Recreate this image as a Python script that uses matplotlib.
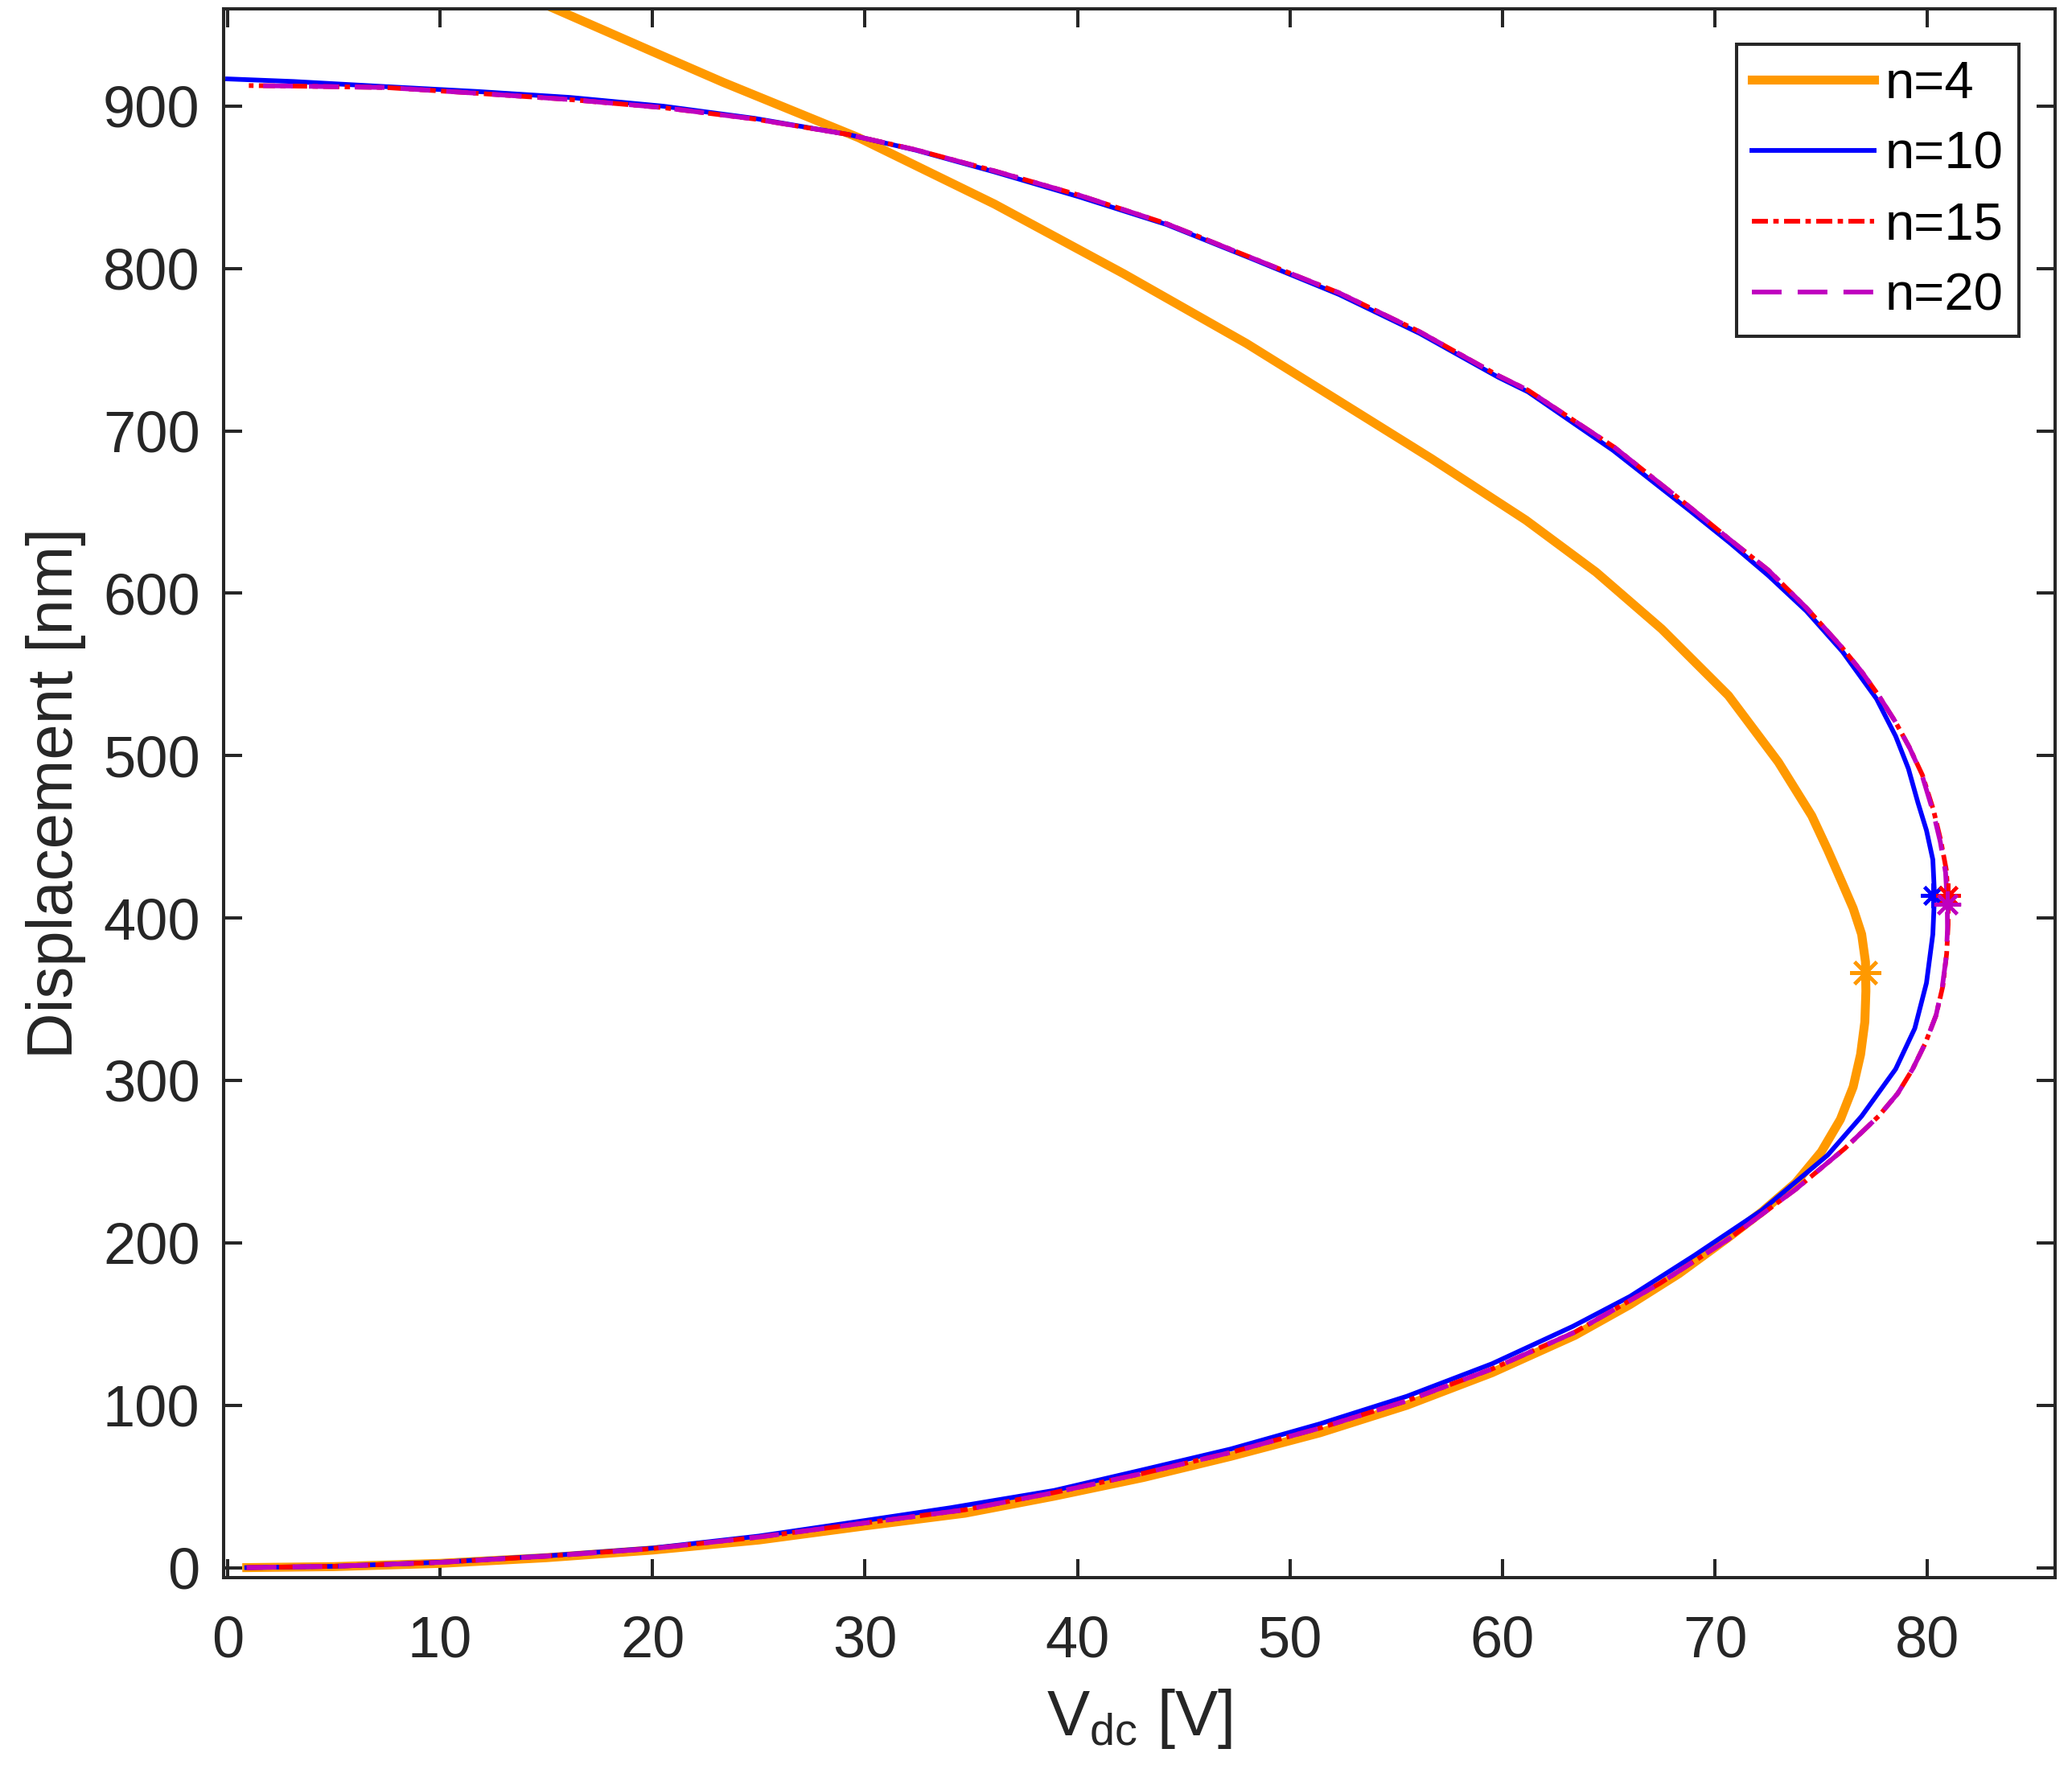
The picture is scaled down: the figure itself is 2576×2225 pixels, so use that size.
import numpy as np
import matplotlib
matplotlib.use("Agg")
import matplotlib.pyplot as plt

plt.rcParams['font.family'] = ['Liberation Sans', 'DejaVu Sans']
plt.rcParams['mathtext.fontset'] = 'custom'
plt.rcParams['mathtext.rm'] = 'Liberation Sans'
plt.rcParams['lines.scale_dashes'] = False

# 데이터 : V_dc [V], displacement [nm]
v_n4 = [0.9, 5, 10, 15, 20, 25, 30, 34.7, 38.9, 43.1, 47.2, 51.4, 55.5, 59.5, 63.4, 66.0, 68.3,
        70.6, 72.2, 73.8, 75.0, 75.9, 76.5, 76.85, 77.05, 77.1, 77.08, 76.9, 76.5, 75.97, 75.3,
        74.55, 72.98, 70.63, 67.49, 64.4, 61.1, 56.64, 52.3, 47.95, 42.16, 36.08, 29.7, 23.34,
        20.49, 15.2]
d_n4 = [0, 0.6, 2.6, 6.1, 10.8, 17, 25.7, 33.5, 44, 55.5, 68.5, 83, 100, 120, 143, 162, 181,
        203, 219, 237, 256, 276, 296, 316, 336, 355, 373, 390, 406, 422, 442,
        463, 496, 537, 578, 613, 645, 683, 718.4, 753.8, 796.8, 839.7, 880.5, 914.5,
        930.7, 961]

v_n10 = [0.9, 5, 10, 15, 20, 25, 30, 34, 38.9, 43, 47.2, 51.4, 55.5, 59.5, 63.3, 66, 69, 72.2,
         75.3, 76.9, 78.5, 79.4, 79.95, 80.25, 80.33, 80.25, 79.95, 79.55, 79.1, 78.5, 77.6, 76.0,
         74.3, 72.5, 70.7, 68.8, 65.2, 61.2, 59.8, 56.1, 52.3, 48.2, 44.2, 40.1, 36.1, 32.4, 29.2,
         24.8, 20.5, 16.1, 11.8, 7.5, 3.1, 0]
d_n10 = [0, 0.8, 3.3, 7.2, 12, 19.4, 29, 36.8, 47.5, 60, 73, 88.5, 105.5, 125.5, 148.5, 167, 192,
         220, 254, 278, 307, 332, 360, 390, 414, 436, 454, 471, 492, 512, 535, 564,
         589, 611, 631, 651, 688, 724, 733, 760, 784, 806, 827, 844, 859.4, 872.8, 882.5,
         892.4, 899.9, 905.3, 908.9, 911.9, 915.1, 916.7]

v_n15 = [0.9, 5, 10, 15, 20, 25, 30, 34.7, 38.9, 43.1, 47.2, 51.4, 55.5, 59.5, 63.4, 67.4, 70.6,
         73.8, 76.1, 77.7, 78.6, 79.3, 79.9, 80.4, 80.72, 80.9, 80.97, 80.97, 80.88, 80.62, 80.27,
         79.76, 79.15, 78.48, 77.7, 76.91, 75.97, 74.3, 72.5, 70.7, 68.9, 65.26, 61.2, 59.8, 56.1,
         52.3, 48.2, 44.2, 40.1, 36.1, 32.4, 29.2, 24.8, 20.5, 16.1, 11.8, 7.45, 3.1, 1.0]
d_n15 = [0, 0.8, 3.2, 7, 11.7, 18.8, 27.5, 35.6, 46.2, 58.1, 70.9, 85.9, 102.7, 122.3, 145, 175,
         202, 233, 258, 278, 292, 307, 323, 340, 358, 378, 396, 413, 430, 448, 467,
         488, 505, 521, 537, 551.5, 566.7, 591, 614.3, 633, 652.1, 689.9, 725, 734, 761,
         785, 806.5, 827.5, 845, 860, 873, 882.5, 892, 899, 904, 907.8, 911.4, 912.3, 912.6]

v_n20 = [0.9, 5, 10, 15, 20, 25, 30, 34.7, 38.9, 43.1, 47.2, 51.4, 55.5, 59.5, 63.4, 67.4, 70.6,
         73.8, 76.1, 77.7, 78.6, 79.3, 79.9, 80.4, 80.7, 80.88, 80.94, 80.93, 80.85, 80.6, 80.25,
         79.74, 79.15, 78.48, 77.7, 76.91, 75.97, 74.3, 72.5, 70.7, 68.9, 65.26, 61.2, 59.8, 56.1,
         52.3, 48.2, 44.2, 40.1, 36.1, 32.4, 29.2, 24.8, 20.5, 16.1, 11.8, 7.45, 3.1, 1.0]
d_n20 = [0, 0.8, 3.2, 7, 11.7, 18.8, 27.5, 35.6, 46.2, 58.1, 70.9, 85.9, 102.7, 122.3, 145, 175,
         202, 233, 258, 278, 292, 307, 323, 340, 358, 376, 393, 409, 428, 447, 466,
         488, 505, 521, 537, 551.5, 566.7, 591, 614.3, 633, 652.1, 689.9, 725, 734, 761,
         785, 806.5, 827.5, 845, 860, 873, 882.5, 892, 899, 904, 907.8, 911.4, 912.3, 912.6]

# pull-in 지점
pullin_v = [77.09, 80.25, 80.97, 80.93]
pullin_d = [366.6, 413.7, 413.7, 408.7]

labels = ['n=4', 'n=10', 'n=15', 'n=20']
colors = ['#FF9900', '#0000FF', '#FF0000', '#BF00BF']

# 시각화
fig = plt.figure(figsize=(12.88, 11.125), dpi=200)
ax = fig.add_axes([0.1078, 0.1188, 0.8840, 0.8764])

ax.plot(v_n4, d_n4, color=colors[0], lw=4.0, label=labels[0])
ax.plot(v_n10, d_n10, color=colors[1], lw=2.1, label=labels[1])
ax.plot(v_n15, d_n15, color=colors[2], lw=2.1, dashes=(7.2, 2.4, 2.4, 2.4), label=labels[2])
ax.plot(v_n20, d_n20, color=colors[3], lw=2.1, dashes=(13.3, 7.2), label=labels[3])

star = (8, 2, 0)
sizes = [14, 11, 11, 12]
for k in range(4):
    ax.plot(pullin_v[k], pullin_d[k], linestyle='none', marker=star, markersize=sizes[k],
            markeredgewidth=1.5, color=colors[k])

ax.set_xlim(-0.2, 86)
ax.set_ylim(-6, 960)
ax.set_xticks(np.arange(0, 81, 10))
ax.set_yticks(np.arange(0, 901, 100))

dark = '#262626'
for s in ax.spines.values():
    s.set_color(dark)
    s.set_linewidth(1.45)
ax.tick_params(axis='both', direction='in', length=8.3, width=1.45, color=dark,
               labelcolor=dark, labelsize=26, top=True, right=True)
ax.tick_params(axis='x', pad=17)
ax.tick_params(axis='y', pad=10.5)

ax.set_xlabel(r'$\mathregular{V_{dc}}$ [V]', fontsize=28.7, color=dark, labelpad=8)
ax.set_ylabel('Displacement [nm]', fontsize=28.7, color=dark, labelpad=7.5)

leg = ax.legend(loc='upper right', bbox_to_anchor=(2510 / 2576, 1 - 55 / 2225),
                bbox_transform=fig.transFigure, borderaxespad=0, fontsize=23.5,
                handlelength=2.33, handletextpad=0.2, labelspacing=0.43, borderpad=0.3,
                fancybox=False, framealpha=1)
leg.get_frame().set_edgecolor(dark)
leg.get_frame().set_linewidth(1.45)

fig.savefig('out.png', dpi=200)
